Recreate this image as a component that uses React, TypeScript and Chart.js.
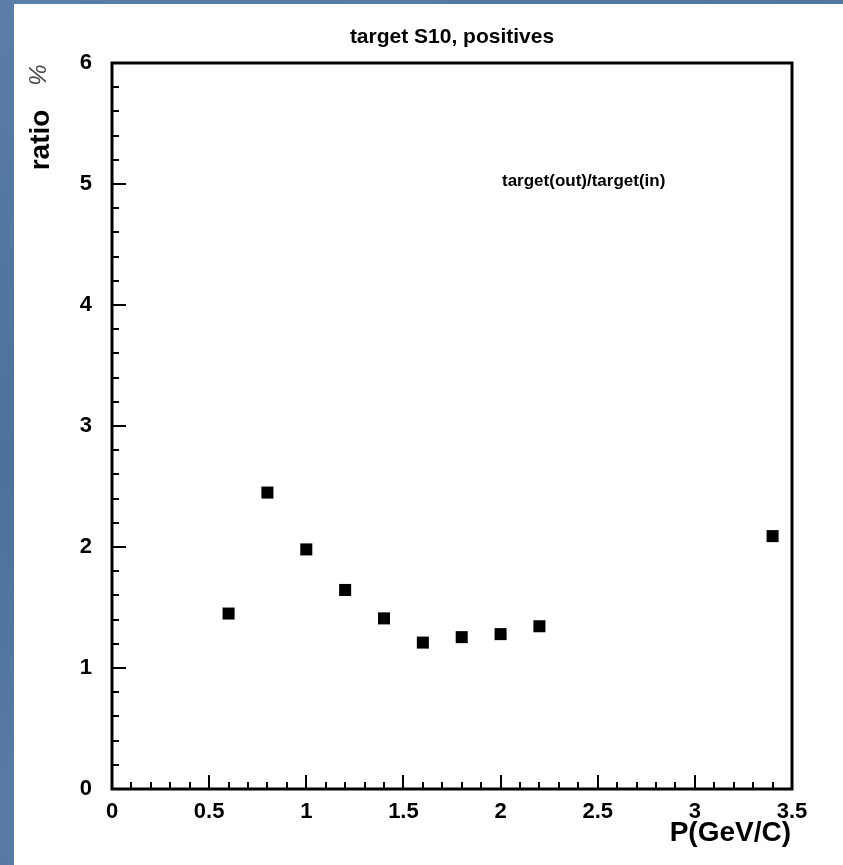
import React, { useEffect, useRef } from "react";
import { Chart, registerables } from "chart.js";

Chart.register(...registerables);

// ---- data ----
const momenta = [0.6, 0.8, 1.0, 1.2, 1.4, 1.6, 1.8, 2.0, 2.2, 3.4];
const ratios = [1.45, 2.45, 1.98, 1.645, 1.41, 1.21, 1.255, 1.28, 1.345, 2.09];
const chartTitle = "target S10, positives";
const annotation = "target(out)/target(in)";
const xTitle = "P(GeV/C)";
const yTitle = "ratio";
const yUnit = "%";
const xRange = [0, 3.5];
const yRange = [0, 6];
const xSteps = [0.5, 0.1]; // major, minor
const ySteps = [1, 0.2];

const FONT = "'Liberation Sans', Arial, Helvetica, sans-serif";

const framePlugin = {
  id: "frameAndText",
  afterDraw(chart: any) {
    const { ctx, chartArea: a } = chart;
    const xs = chart.scales.x;
    const ys = chart.scales.y;
    ctx.save();
    ctx.strokeStyle = "#000";
    ctx.fillStyle = "#000";
    ctx.lineWidth = 2;
    // x ticks (inside, bottom)
    const nx = Math.round((xRange[1] - xRange[0]) / xSteps[1]);
    const xr = Math.round(xSteps[0] / xSteps[1]);
    ctx.beginPath();
    for (let i = 0; i <= nx; i++) {
      const v = xRange[0] + i * xSteps[1];
      const px = Math.round(xs.getPixelForValue(v));
      const len = i % xr === 0 ? 14 : 7;
      ctx.moveTo(px, a.bottom);
      ctx.lineTo(px, a.bottom - len);
    }
    // y ticks (inside, left)
    const ny = Math.round((yRange[1] - yRange[0]) / ySteps[1]);
    const yr = Math.round(ySteps[0] / ySteps[1]);
    for (let i = 0; i <= ny; i++) {
      const v = yRange[0] + i * ySteps[1];
      const py = Math.round(ys.getPixelForValue(v));
      const len = i % yr === 0 ? 14 : 7;
      ctx.moveTo(a.left, py);
      ctx.lineTo(a.left + len, py);
    }
    ctx.stroke();
    // frame
    ctx.lineWidth = 3;
    ctx.strokeRect(a.left, a.top, a.right - a.left, a.bottom - a.top);

    // title
    ctx.textAlign = "center";
    ctx.textBaseline = "middle";
    ctx.font = `bold 21px ${FONT}`;
    ctx.fillText(chartTitle, (a.left + a.right) / 2, 33);

    // annotation
    ctx.textAlign = "left";
    ctx.font = `bold 17px ${FONT}`;
    ctx.fillText(annotation, 488, 177);

    // x title
    ctx.textAlign = "right";
    ctx.font = `bold 28px ${FONT}`;
    ctx.fillText(xTitle, 777, 829);

    // y title (rotated)
    ctx.save();
    ctx.translate(27, 136);
    ctx.rotate(-Math.PI / 2);
    ctx.textAlign = "center";
    ctx.font = `bold 28px ${FONT}`;
    ctx.fillText(yTitle, 0, 0);
    ctx.restore();

    ctx.save();
    ctx.translate(25, 71);
    ctx.rotate(-Math.PI / 2);
    ctx.textAlign = "center";
    ctx.fillStyle = "#444";
    ctx.font = `italic 24px ${FONT}`;
    ctx.fillText(yUnit, 0, 0);
    ctx.restore();

    ctx.restore();
  },
};

const fmt = (v: any) => String(Number(Number(v).toFixed(2)));

export default function App() {
  const ref = useRef<HTMLCanvasElement | null>(null);

  useEffect(() => {
    document.body.style.margin = "0";
    const canvas = ref.current;
    if (!canvas) return;
    const points = momenta.map((m, i) => ({ x: m, y: ratios[i] }));
    const chart = new Chart(canvas, {
      type: "scatter",
      data: {
        datasets: [
          {
            data: points,
            pointStyle: "rect",
            pointRadius: 8.5,
            pointHoverRadius: 8.5,
            backgroundColor: "#000",
            borderColor: "#000",
            borderWidth: 0,
          },
        ],
      },
      options: {
        responsive: false,
        animation: false,
        layout: { padding: { top: 59, right: 51, left: 0, bottom: 0 } },
        plugins: {
          legend: { display: false },
          tooltip: { enabled: false },
          title: { display: false },
        },
        scales: {
          x: {
            type: "linear",
            min: xRange[0],
            max: xRange[1],
            grid: { display: false, drawTicks: false },
            border: { display: false },
            ticks: {
              stepSize: xSteps[0],
              color: "#000",
              padding: 10,
              maxRotation: 0,
              autoSkip: false,
              callback: fmt,
              font: { family: FONT, size: 22, weight: "bold" },
            },
            afterFit(scale: any) {
              scale.height = 76;
            },
          },
          y: {
            type: "linear",
            min: yRange[0],
            max: yRange[1],
            grid: { display: false, drawTicks: false },
            border: { display: false },
            ticks: {
              stepSize: ySteps[0],
              color: "#000",
              padding: 20,
              callback: fmt,
              font: { family: FONT, size: 22, weight: "bold" },
            },
            afterFit(scale: any) {
              scale.width = 98;
            },
          },
        },
      },
      plugins: [framePlugin],
    } as any);
    return () => chart.destroy();
  }, []);

  return (
    <div
      style={{
        position: "absolute",
        left: 0,
        top: 0,
        width: 843,
        height: 865,
        overflow: "hidden",
        background:
          "linear-gradient(160deg, #5a7ea8 0%, #4c719c 40%, #587ca6 70%, #4a6e98 100%)",
      }}
    >
      <canvas
        ref={ref}
        width={829}
        height={861}
        style={{
          position: "absolute",
          left: 14,
          top: 4,
          width: 829,
          height: 861,
          background: "#fff",
          display: "block",
        }}
      />
    </div>
  );
}
